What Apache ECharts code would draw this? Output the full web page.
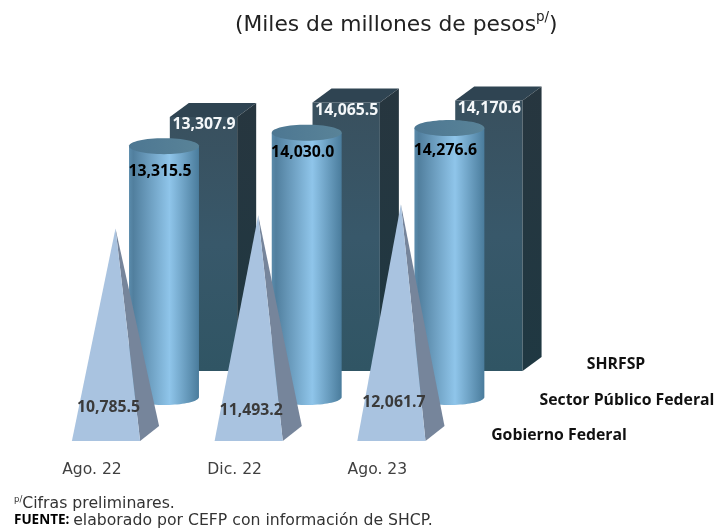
<!DOCTYPE html>
<html><head><meta charset="utf-8">
<style>html,body{margin:0;padding:0;background:#fff}#c{width:717px;height:529px}</style>
<script src="https://cdn.jsdelivr.net/npm/echarts@6/dist/echarts.min.js"></script>
</head><body><div id="c"></div>
<script>
var categories = ['Ago. 22', 'Dic. 22', 'Ago. 23'];
var shrfsp = [13307.9, 14065.5, 14170.6];
var sectorPublico = [13315.5, 14030.0, 14276.6];
var gobierno = [10785.5, 11493.2, 12061.7];
var seriesNames = ['SHRFSP', 'Sector Público Federal', 'Gobierno Federal'];
// hand-placed label offsets of the original (px)
var cylLabelDy = [25, 20, 22];
var cylLabelDx = [-4, -4, -4];
var pyrLabelAnchorY = [-26, -23, -31];
var pyrLabelDx = [-7, -7, -7];

var FONT = '"Open Sans", sans-serif';
var THIN = '"DejaVu Sans", sans-serif';
var fmt = function (v) { return v.toLocaleString('en-US', {minimumFractionDigits: 1, maximumFractionDigits: 1}); };
var BAND = 142.7, DX = 19, DY = 14;

function ellipsePts(cx, cy, rx, ry, a0, a1, n) {
  var p = [];
  for (var i = 0; i <= n; i++) {
    var a = a0 + (a1 - a0) * i / n;
    p.push([cx + rx * Math.cos(a), cy + ry * Math.sin(a)]);
  }
  return p;
}
function lin(x0, y0, x1, y1, stops) { return new echarts.graphic.LinearGradient(x0, y0, x1, y1, stops); }

function renderBox(params, api) {
  var c = api.coord([api.value(0), api.value(1)]);
  var b = api.coord([api.value(0), 0]);
  var w = api.size([1, 0])[0] * 0.472;
  var l = c[0] - w / 2, r = c[0] + w / 2, t = c[1], y0 = b[1];
  return {type: 'group', children: [
    {type: 'polygon', shape: {points: [[l, t], [r, t], [r, y0], [l, y0]]},
      style: {fill: lin(0, 0, 0, 1, [{offset: 0, color: '#39505e'}, {offset: 0.5, color: '#38586a'}, {offset: 1, color: '#305564'}])}},
    {type: 'polygon', shape: {points: [[l, t], [r, t], [r + DX, t - DY], [l + DX, t - DY]]}, style: {fill: '#2f4452'}},
    {type: 'polygon', shape: {points: [[r, t], [r + DX, t - DY], [r + DX, y0 - DY], [r, y0]]},
      style: {fill: lin(0, 0, 0, 1, [{offset: 0, color: '#27363f'}, {offset: 1, color: '#1f3842'}])}},
    {type: 'text', style: {text: fmt(api.value(1)), x: c[0] + 0.5, y: t + 8, align: 'center', verticalAlign: 'middle',
      fill: '#f4f7f9', fontFamily: FONT, fontSize: 15.8, fontWeight: 'bold'}}
  ]};
}
function renderCyl(params, api) {
  var i = params.dataIndex;
  var c = api.coord([api.value(0), api.value(1)]);
  var b = api.coord([api.value(0), 0]);
  var rx = api.size([1, 0])[0] * 0.245, ry = 8;
  var cx = c[0], t = c[1], y0 = b[1];
  var body = [[cx - rx, t]].concat(ellipsePts(cx, y0, rx, ry, Math.PI, 0, 40)).concat([[cx + rx, t]]);
  return {type: 'group', children: [
    {type: 'polygon', shape: {points: body},
      style: {fill: lin(0, 0, 1, 0, [{offset: 0, color: '#5a8bab'}, {offset: 0.06, color: '#517f9e'}, {offset: 0.58, color: '#8fc5ea'}, {offset: 1, color: '#4a7c9c'}])}},
    {type: 'polygon', shape: {points: ellipsePts(cx, t, rx, ry, 0, Math.PI * 2, 64)},
      style: {fill: lin(0, 0, 1, 0, [{offset: 0, color: '#4d7792'}, {offset: 1, color: '#598398'}])}},
    {type: 'text', style: {text: fmt(api.value(1)), x: cx + cylLabelDx[i], y: t + cylLabelDy[i], align: 'center', verticalAlign: 'middle',
      fill: '#000', fontFamily: FONT, fontSize: 15.8, fontWeight: 'bold'}}
  ]};
}
function renderPyr(params, api) {
  var i = params.dataIndex;
  var c = api.coord([api.value(0), api.value(1)]);
  var b = api.coord([api.value(0), 0]);
  var w = api.size([1, 0])[0] * 0.478;
  var cx = c[0], y0 = b[1], dx = DX / 2, dy = 7.5;
  var fl = [cx - dx - w / 2, y0 + dy], fr = [cx - dx + w / 2, y0 + dy], br = [cx + dx + w / 2, y0 - dy], apex = [cx, c[1]];
  return {type: 'group', children: [
    {type: 'polygon', shape: {points: [fr, br, apex]}, style: {fill: '#76859b'}},
    {type: 'polygon', shape: {points: [fl, fr, apex]}, style: {fill: '#a9c3e0'}},
    {type: 'text', style: {text: fmt(api.value(1)), x: cx + pyrLabelDx[i], y: y0 + pyrLabelAnchorY[i], align: 'center', verticalAlign: 'middle',
      fill: '#3a3a3a', fontFamily: FONT, fontSize: 15.8, fontWeight: 'bold'}}
  ]};
}
function pairs(vals) { return vals.map(function (v, i) { return [i, v]; }); }
function grid(center, base, h) { return {left: center - BAND / 2, width: BAND * 3, top: base - h, height: h}; }
function xA(idx, show) {
  return {type: 'category', gridIndex: idx, data: categories, axisLine: {show: false}, axisTick: {show: false},
    axisLabel: show ? {show: true, margin: 28, padding: [0, 47, 0, 0], color: '#404040', fontFamily: THIN, fontSize: 15.6} : {show: false}};
}
function yA(idx) { return {type: 'value', gridIndex: idx, min: 0, max: 15000, show: false, splitLine: {show: false}}; }
function depthLabel(text, cx, cy) {
  return {type: 'text', x: cx, y: cy, style: {text: text, align: 'center', verticalAlign: 'middle', fill: '#111', fontFamily: FONT, fontSize: 15.8, fontWeight: 'bold'}};
}
var chart = echarts.init(document.getElementById('c'), null, {renderer: 'canvas'});
chart.setOption({
  backgroundColor: '#fff',
  animation: false,
  title: {
    left: 230, top: 5,
    text: '{a|(Miles de millones de pesos}{b|p/}{a|)}',
    textStyle: {fontWeight: 'normal', rich: {
      a: {fontFamily: THIN, fontSize: 21.8, fontWeight: 'normal', color: '#222', lineHeight: 30},
      b: {fontFamily: THIN, fontSize: 13.5, fontWeight: 'normal', color: '#222', verticalAlign: 'top', lineHeight: 30}
    }}
  },
  grid: [grid(203.5, 371, 286.4), grid(164, 397, 282.6), grid(115.5, 433.5, 285)],
  xAxis: [xA(0, false), xA(1, false), xA(2, true)],
  yAxis: [yA(0), yA(1), yA(2)],
  series: [
    {type: 'custom', name: seriesNames[0], xAxisIndex: 0, yAxisIndex: 0, clip: false, z: 1, renderItem: renderBox, encode: {x: 0, y: 1}, data: pairs(shrfsp)},
    {type: 'custom', name: seriesNames[1], xAxisIndex: 1, yAxisIndex: 1, clip: false, z: 2, renderItem: renderCyl, encode: {x: 0, y: 1}, data: pairs(sectorPublico)},
    {type: 'custom', name: seriesNames[2], xAxisIndex: 2, yAxisIndex: 2, clip: false, z: 3, renderItem: renderPyr, encode: {x: 0, y: 1}, data: pairs(gobierno)}
  ],
  graphic: [
    depthLabel(seriesNames[0], 616, 364),
    depthLabel(seriesNames[1], 627, 400),
    depthLabel(seriesNames[2], 559, 435),
    {type: 'text', x: 14, y: 495, style: {
      text: '{s|p/}{n|Cifras preliminares.}\n{f|FUENTE:} {n|elaborado por CEFP con información de SHCP.}',
      fontFamily: THIN, rich: {
        s: {fontFamily: THIN, fontSize: 8.5, fill: '#333', verticalAlign: 'top', lineHeight: 17, color: '#333'},
        n: {fontFamily: THIN, fontSize: 15.7, fill: '#333', lineHeight: 17, color: '#333'},
        f: {fontFamily: FONT, fontSize: 13.5, fontWeight: 'bold', fill: '#000', lineHeight: 17, color: '#000'}
      }}}
  ]
});
</script></body></html>
